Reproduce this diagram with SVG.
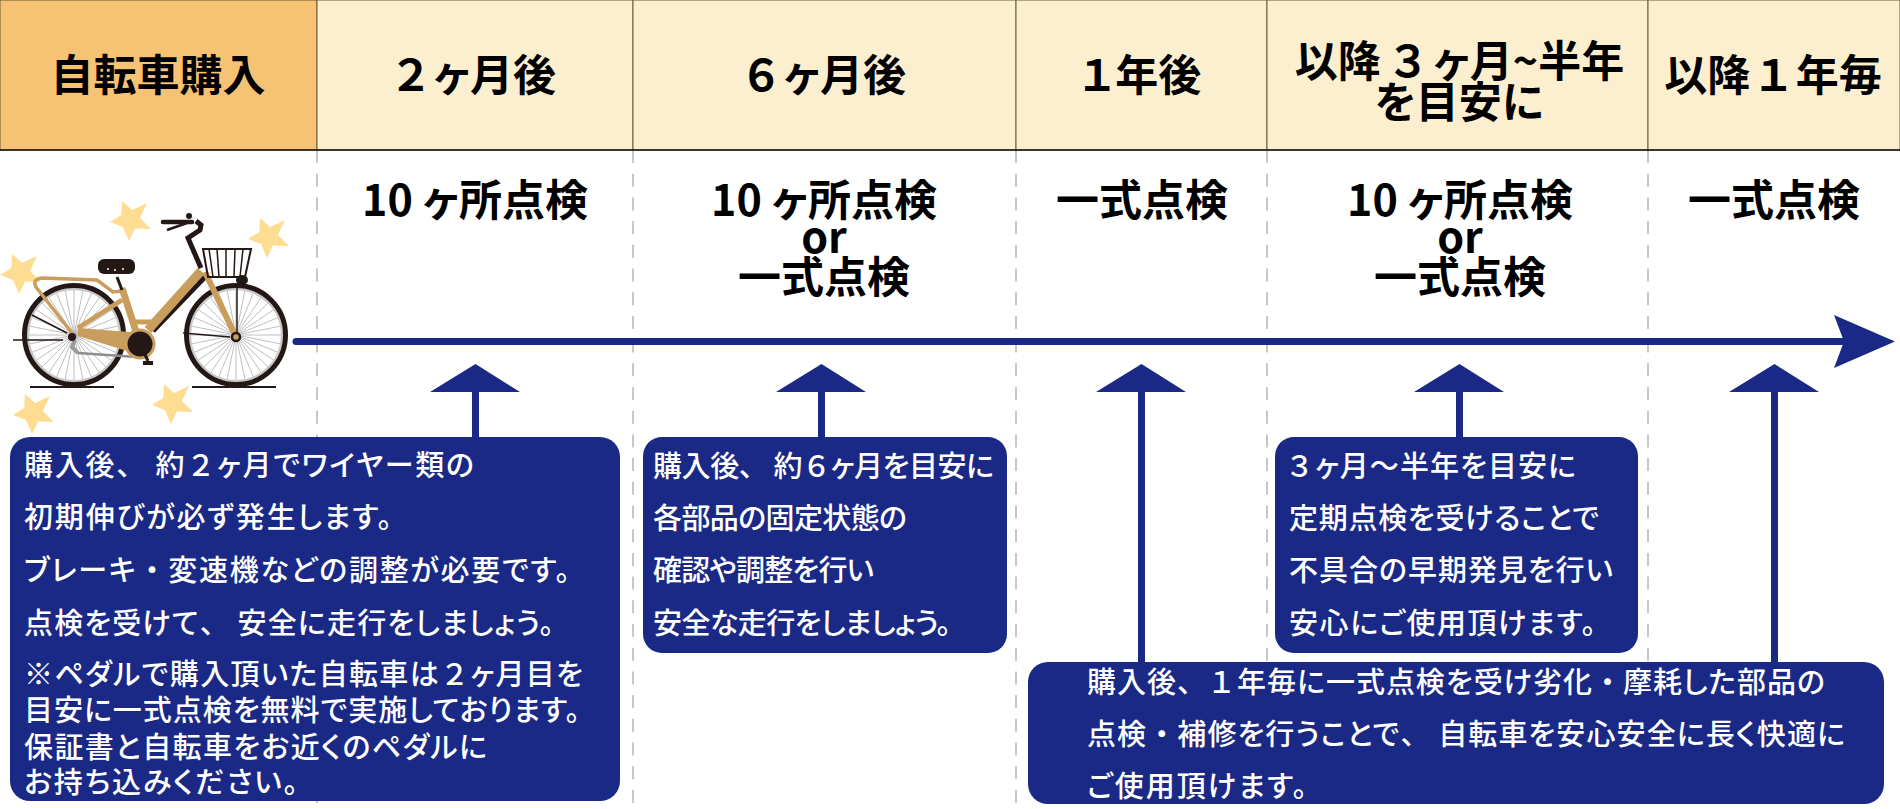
<svg xmlns="http://www.w3.org/2000/svg" width="1900" height="809" viewBox="0 0 1900 809">
<style>
.h,.s{font-family:"Noto Sans CJK JP","Liberation Sans",sans-serif;font-weight:700;font-size:43px;fill:#000;text-anchor:middle;font-feature-settings:"palt"}
.t{font-family:"Noto Sans CJK JP","Liberation Sans",sans-serif;font-weight:500;font-size:29px;fill:#fff;font-feature-settings:"palt"}
.f{font-feature-settings:normal}
.b{fill:#1a2986}
.c{fill:#fcefd0;stroke:#6e5a36;stroke-width:1}
.d{stroke:#b5b5b5;stroke-width:1.5;stroke-dasharray:13 10.700;fill:none}
.st{fill:#fedc91}
.sp{stroke:#a3a3a3;stroke-width:.7;fill:none}
.fr{fill:none;stroke:#c99e5d}
.k{fill:none;stroke:#231815}
</style>
<defs>
<polygon id="star" class="st" points="-8,-19 2,-10 17,-17 10,-2 21,9 5,8.500 -1,21 -7,7 -20,2 -8.700,-5"/>
<g id="wheel">
<path class="sp" d="M46 0H-46M45.100 9L-45.100 -9M42.500 17.600L-42.500 -17.600M38.200 25.600L-38.200 -25.600M32.500 32.500L-32.500 -32.500M25.600 38.200L-25.600 -38.200M17.600 42.500L-17.600 -42.500M9 45.100L-9 -45.100M0 46V-46M-9 45.100L9 -45.100M-17.600 42.500L17.600 -42.500M-25.600 38.200L25.600 -38.200M-32.500 32.500L32.500 -32.500M-38.200 25.600L38.200 -25.600M-42.500 17.600L42.500 -17.600M-45.100 9L45.100 -9"/>
<circle r="46" fill="none" stroke="#c9c9c9" stroke-width="2.500"/>
<circle r="49.500" class="k" stroke-width="5"/>
</g>
</defs>
<g id="dashes">
<path class="d" d="M317 150V809M633 150V809M1016 150V809M1267 150V809M1648 150V809"/>
</g>
<g id="head-0"><rect x="0" y="0" width="317" height="150" fill="#f6c375" stroke="#6e5a36"/><text class="h" x="158" y="91">自転車購入</text></g>
<g id="head-1"><rect class="c" x="317" y="0" width="316" height="150"/><text class="h" x="475" y="91">２<tspan dx="7">ヶ月後</tspan></text></g>
<g id="head-2"><rect class="c" x="633" y="0" width="383" height="150"/><text class="h" x="825" y="91">６<tspan dx="7">ヶ月後</tspan></text></g>
<g id="head-3"><rect class="c" x="1016" y="0" width="251" height="150"/><text class="h" x="1141" y="91">１<tspan dx="2">年後</tspan></text></g>
<g id="head-4"><rect class="c" x="1267" y="0" width="381" height="150"/><text class="h" x="1459.500" y="77">以降<tspan dx="10">３</tspan><tspan dx="10">ヶ月~半年</tspan></text><text class="h" x="1459" y="118">を目安に</text></g>
<g id="head-5"><rect class="c" x="1648" y="0" width="252" height="150"/><text class="h" x="1773" y="91">以降<tspan dx="7">１</tspan><tspan dx="6">年毎</tspan></text></g>
<line x1="0" y1="150" x2="1900" y2="150" stroke="#111" stroke-width="1.500"/>
<g id="labels">
<text class="s" x="475" y="216">10 ヶ所点検</text>
<text class="s" x="824" y="216">10 ヶ所点検</text><text class="s" x="824" y="253">or</text><text class="s" x="824" y="293">一式点検</text>
<text class="s" x="1142" y="216">一式点検</text>
<text class="s" x="1460" y="216">10 ヶ所点検</text><text class="s" x="1460" y="253">or</text><text class="s" x="1460" y="293">一式点検</text>
<text class="s" x="1774" y="216">一式点検</text>
</g>
<g id="connectors">
<path d="M296 341.500H1846" stroke="#1a2986" stroke-width="7" stroke-linecap="round"/>
<polygon class="b" points="1834,315 1895,341.500 1834,368 1844,341.500"/>
<g id="up-1"><rect class="b" x="472" y="390" width="7" height="50"/><polygon class="b" points="475.500,364 520,392 430,392"/></g>
<g id="up-2"><rect class="b" x="818" y="390" width="7" height="50"/><polygon class="b" points="821.500,364 866,392 776,392"/></g>
<g id="up-3"><rect class="b" x="1138" y="390" width="7" height="275"/><polygon class="b" points="1141.500,364 1186,392 1096,392"/></g>
<g id="up-4"><rect class="b" x="1456" y="390" width="7" height="50"/><polygon class="b" points="1459.500,364 1504,392 1414,392"/></g>
<g id="up-5"><rect class="b" x="1771" y="390" width="7" height="275"/><polygon class="b" points="1774.500,364 1819,392 1729,392"/></g>
</g>
<g id="bicycle">
<use href="#star" x="130" y="220"/><use href="#star" x="268" y="237"/><use href="#star" x="20" y="273"/><use href="#star" x="33" y="413"/><use href="#star" x="172" y="403"/>
<use href="#wheel" x="74" y="335"/><use href="#wheel" x="236" y="335"/>
<path d="M30 387H114M192 387H276" stroke="#231815" stroke-width="2"/>
<path d="M13 340H63M183 333L230 337M32 315L67 333" class="k" stroke-width="1.500"/>
<path d="M78 353L137 357" stroke="#8d8d8d" stroke-width="2.500"/>
<path d="M75 340L72 347L78 353" fill="none" stroke="#9b9b9b" stroke-width="4"/>
<path d="M153 331L205 277" class="k" stroke-width="5"/>
<polygon fill="#c99e5d" points="78,328 130,332 140,335 137,354 78,336"/>
<path d="M78 328L122 300" class="fr" stroke-width="5"/>
<path d="M122 288L140 344" class="fr" stroke-width="7"/>
<path d="M148 330L201 271" class="fr" stroke-width="9"/>
<path d="M135 322H153" class="fr" stroke-width="5"/>
<path d="M205 272L236 337" class="fr" stroke-width="6"/>
<path d="M72 333L36 287Q32 279 42 278L97 280L113 292L123 291" class="fr" stroke-width="3.500"/>
<circle cx="140" cy="344" r="14" fill="#231815" stroke="#c99e5d" stroke-width="3"/>
<path d="M141 346L148 361" class="k" stroke-width="3"/><rect x="143" y="361" width="10" height="4" fill="#231815"/>
<circle cx="236" cy="337" r="4" fill="#c99e5d" stroke="#231815" stroke-width="2.500"/>
<circle cx="72" cy="337" r="4" fill="#231815"/>
<path d="M117 277L122 290" class="k" stroke-width="3"/>
<rect x="98" y="259" width="37" height="15" rx="6" fill="#231815"/>
<circle cx="108" cy="269" r="1" fill="#fff"/><circle cx="115" cy="270" r="1" fill="#fff"/><circle cx="123" cy="269" r="1" fill="#fff"/>
<path d="M201 268L188 238L200 230L201 225L196 221" class="k" stroke-width="5"/>
<path d="M163 222H192" class="k" stroke-width="4.500" stroke-linecap="round"/>
<path d="M167 230L187 223" class="k" stroke-width="2.500"/>
<circle cx="189" cy="216" r="3" fill="#231815"/>
<path d="M237 283V333" class="k" stroke-width="1.500"/>
<path d="M203 249H251L245 277H208Z" class="k" stroke-width="2"/>
<path d="M209 249L213 277M217 249L219 277M226 249V277M235 249L234 277M243 249L240 277" class="k" stroke-width="1.500"/>
<ellipse cx="242" cy="280" rx="6" ry="5" fill="#231815"/>
</g>
<g id="box-1"><rect class="b" x="10" y="437" width="610" height="364" rx="20"/>
<text class="t" x="24" y="476" textLength="450">購入後<tspan class="f">、 </tspan>約<tspan class="f">２</tspan>ヶ月でワイヤー類の</text>
<text class="t" x="24" y="528" textLength="368">初期伸びが必ず発生します。</text>
<text class="t" x="24" y="581" textLength="546">ブレーキ<tspan class="f">・</tspan>変速機などの調整が必要です。</text>
<text class="t" x="24" y="634" textLength="530">点検を受けて<tspan class="f">、 </tspan>安全に走行をしましょう。</text>
<text class="t" x="24" y="685" textLength="559">※ペダルで購入頂いた自転車は<tspan class="f">２</tspan>ヶ月目を</text>
<text class="t" x="24" y="721" textLength="556">目安に一式点検を無料で実施しております。</text>
<text class="t" x="24" y="758" textLength="463">保証書と自転車をお近くのペダルに</text>
<text class="t" x="24" y="793" textLength="274">お持ち込みください。</text></g>
<g id="box-2"><rect class="b" x="643" y="437" width="364" height="216" rx="19"/>
<text class="t" x="653" y="477" textLength="341">購入後<tspan class="f">、 </tspan>約<tspan class="f">６</tspan>ヶ月を目安に</text>
<text class="t" x="653" y="529" textLength="254">各部品の固定状態の</text>
<text class="t" x="653" y="581" textLength="221">確認や調整を行い</text>
<text class="t" x="653" y="634" textLength="298">安全な走行をしましょう。</text></g>
<g id="box-3"><rect class="b" x="1275" y="437" width="363" height="216" rx="19"/>
<text class="t" x="1285" y="477" textLength="291"><tspan class="f">３</tspan>ヶ月<tspan class="f">～</tspan>半年を目安に</text>
<text class="t" x="1289" y="529" textLength="310">定期点検を受けることで</text>
<text class="t" x="1289" y="581" textLength="324">不具合の早期発見を行い</text>
<text class="t" x="1289" y="634" textLength="307">安心にご使用頂けます。</text></g>
<g id="box-4"><rect class="b" x="1028" y="662" width="856" height="142" rx="20"/>
<text class="t" x="1087" y="693" textLength="738">購入後<tspan class="f">、１</tspan>年毎に一式点検を受け劣化<tspan class="f">・</tspan>摩耗した部品の</text>
<text class="t" x="1087" y="745" textLength="758">点検<tspan class="f">・</tspan>補修を行うことで<tspan class="f">、 </tspan>自転車を安心安全に長く快適に</text>
<text class="t" x="1087" y="797" textLength="220">ご使用頂けます。</text></g>
</svg>
